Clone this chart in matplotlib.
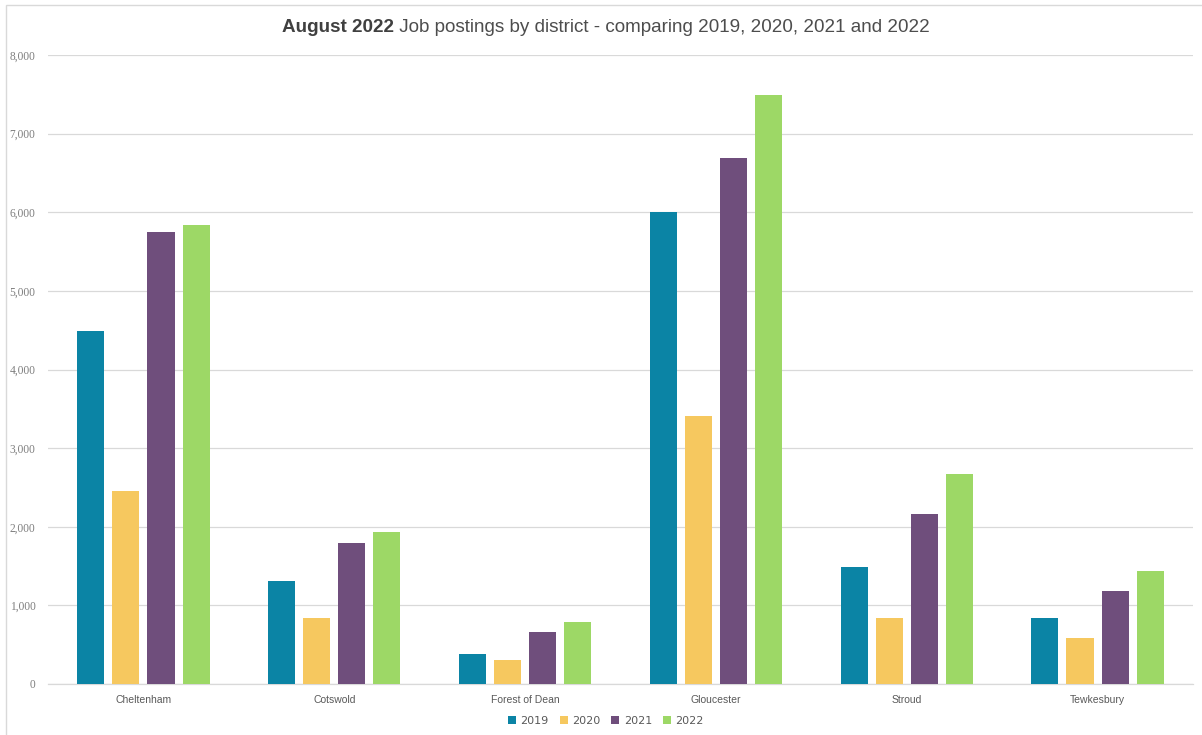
import matplotlib.pyplot as plt
import matplotlib.patches as mpatches
import numpy as np

districts = ['Cheltenham', 'Cotswold', 'Forest of Dean', 'Gloucester', 'Stroud', 'Tewkesbury']
years = ['2019', '2020', '2021', '2022']
postings2019 = [4490, 1310, 382, 6005, 1489, 840]
postings2020 = [2455, 840, 305, 3410, 840, 585]
postings2021 = [5750, 1794, 662, 6692, 2163, 1183]
postings2022 = [5840, 1934, 789, 7494, 2672, 1438]
yearColors = ['#0b84a5', '#f6c85f', '#6f4e7c', '#9dd866']
yTicks = [0, 1000, 2000, 3000, 4000, 5000, 6000, 7000, 8000]

series = [postings2019, postings2020, postings2021, postings2022]

fig = plt.figure(figsize=(12.02, 7.35), dpi=100)
ax = fig.add_axes([48 / 1202, 1 - 684 / 735, (1193 - 48) / 1202, (684 - 55) / 735])

xs = np.arange(len(districts))
step = 0.184
width = 0.142
for i, values in enumerate(series):
    ax.bar(xs + (i - 1.5) * step, values, width=width, color=yearColors[i],
           label=years[i], zorder=3)

ax.set_xlim(-0.5, len(districts) - 0.5)
ax.set_ylim(0, 8000)
ax.set_yticks(yTicks)
ax.set_yticklabels(['{:,}'.format(t) for t in yTicks], family='Liberation Serif',
                   fontsize=8.3, color='#7f7f7f')
ax.set_xticks(xs)
ax.set_xticklabels(districts, fontsize=7.5, color='#595959', family='Liberation Sans')
ax.tick_params(axis='both', length=0)
ax.tick_params(axis='y', pad=9)
ax.tick_params(axis='x', pad=8)
ax.grid(axis='y', color='#d9d9d9', linewidth=0.9, zorder=0)
for side in ['top', 'right', 'left']:
    ax.spines[side].set_visible(False)
ax.spines['bottom'].set_color('#d9d9d9')
ax.spines['bottom'].set_linewidth(0.9)

# title: bold part and regular part side by side
boldPart = fig.text(0, 1 - 28 / 735, 'August 2022', fontsize=13.6, fontweight='bold',
                    color='#404040', family='Liberation Sans', va='center')
restPart = fig.text(0, 1 - 28 / 735, ' Job postings by district - comparing 2019, 2020, 2021 and 2022',
                    fontsize=13.6, color='#4d4d4d', family='Liberation Sans', va='center')
fig.canvas.draw()
r = fig.canvas.get_renderer()
wBold = boldPart.get_window_extent(r).width
wRest = restPart.get_window_extent(r).width
startX = 606 - (wBold + wRest) / 2
boldPart.set_x(startX / 1202)
restPart.set_x((startX + wBold) / 1202)

ax.legend(loc='center', bbox_to_anchor=(606 / 1202, 1 - 721 / 735), bbox_transform=fig.transFigure,
          ncol=4, frameon=False, fontsize=8, handlelength=0.7, handleheight=0.7,
          handletextpad=0.4, columnspacing=1.0, labelcolor='#595959')

border = mpatches.Rectangle((6 / 1202, -0.1), 1.2, 1 - 5 / 735 + 0.1, transform=fig.transFigure,
                            fill=False, edgecolor='#d9d9d9', linewidth=1.0)
fig.patches.append(border)

fig.savefig('out.png', dpi=100)
